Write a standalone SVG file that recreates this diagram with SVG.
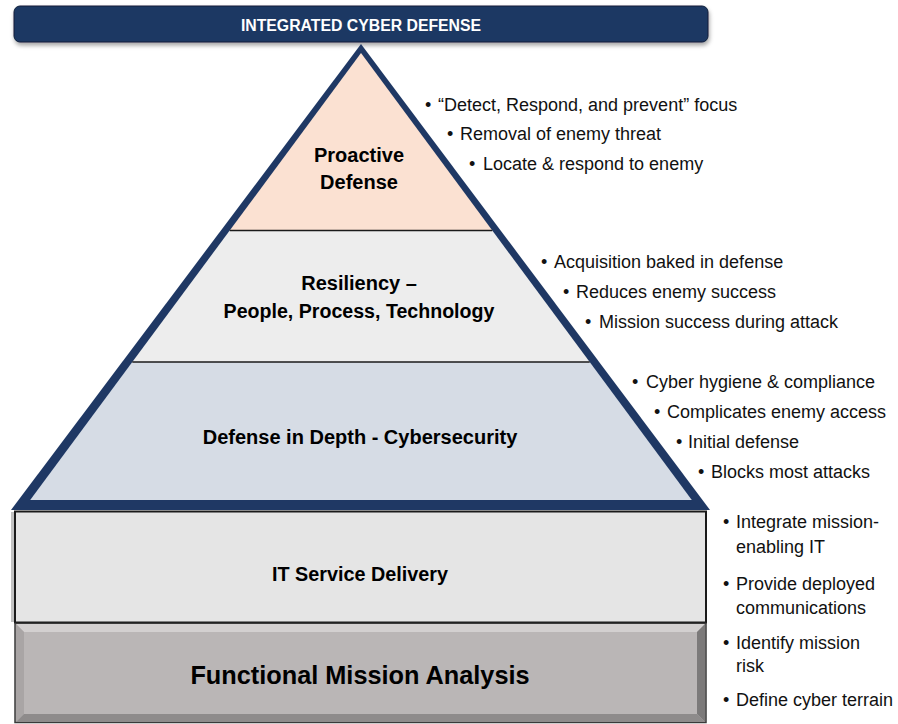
<svg xmlns="http://www.w3.org/2000/svg" width="898" height="724" viewBox="0 0 898 724">
<defs>
<style>
.lbl{font-family:"Liberation Sans",Arial,sans-serif;font-weight:bold;fill:#000;text-anchor:middle}
.bul{font-family:"Liberation Sans",Arial,sans-serif;font-size:18px;fill:#111}
.sep{stroke:#1a1a1a;stroke-width:1.6}
</style>
<filter id="sh" x="-5%" y="-20%" width="110%" height="160%">
<feDropShadow dx="1" dy="3" stdDeviation="2" flood-color="#000" flood-opacity="0.35"/>
</filter>
</defs>
<rect width="898" height="724" fill="#fff"/>

<g id="banner">
<rect x="14" y="6" width="694" height="36" rx="6" fill="#1F3864" stroke="#0e1d38" stroke-width="1" filter="url(#sh)"/>
<text x="361" y="30.5" font-family="'Liberation Sans',Arial,sans-serif" font-weight="bold" font-size="15.8" fill="#fff" text-anchor="middle">INTEGRATED CYBER DEFENSE</text>
</g>

<g id="pyramid-frame">
<polygon points="361,44 11,510 710,510" fill="#1F3864"/>
</g>

<g id="proactive-defense">
<polygon points="361,53 229.7,230.5 492.3,230.5" fill="#FBE1D2"/>
<text class="lbl" x="359" y="162" font-size="20">Proactive</text>
<text class="lbl" x="359" y="189" font-size="20">Defense</text>
</g>

<g id="resiliency">
<polygon points="229.7,230.5 492.3,230.5 589.7,362 132.3,362" fill="#EDEDED"/>
<line class="sep" x1="229.7" y1="230.5" x2="492.3" y2="230.5"/>
<text class="lbl" x="359" y="290" font-size="20">Resiliency –</text>
<text class="lbl" x="359" y="318" font-size="19.6">People, Process, Technology</text>
</g>

<g id="defense-in-depth">
<polygon points="132.3,362 589.7,362 691.8,500 30.2,500" fill="#D6DCE5"/>
<line class="sep" x1="132.3" y1="362" x2="589.7" y2="362"/>
<text class="lbl" x="360" y="444" font-size="20">Defense in Depth - Cybersecurity</text>
</g>

<g id="it-service-delivery">
<rect x="11" y="512" width="3" height="110" fill="#9a9a9a" opacity="0.6"/>
<rect x="15" y="511.5" width="691" height="111" fill="#E5E5E5" stroke="#1a1a1a" stroke-width="2"/>
<text class="lbl" x="360" y="581" font-size="19.8">IT Service Delivery</text>
</g>

<g id="functional-mission-analysis">
<rect x="15" y="623.5" width="691" height="99" fill="#B9B5B5" stroke="#3a3a3a" stroke-width="1.5"/>
<polygon points="16,624 705,624 697,632 24,632" fill="#D3D0D0"/>
<polygon points="16,624 24,632 24,714 16,722" fill="#A9A5A5"/>
<polygon points="705,624 705,722 697,714 697,632" fill="#7C7A7A"/>
<polygon points="16,722 705,722 697,714 24,714" fill="#8E8B8B"/>
<rect x="24" y="632" width="673" height="82" fill="#BAB6B6"/>
<text class="lbl" x="360" y="684" font-size="25.3">Functional Mission Analysis</text>
</g>

<g id="proactive-bullets" class="bul">
<text x="425" y="111">•</text><text x="438" y="111">“Detect, Respond, and prevent” focus</text>
<text x="447" y="140">•</text><text x="460" y="140">Removal of enemy threat</text>
<text x="469" y="170">•</text><text x="483" y="170">Locate &amp; respond to enemy</text>
</g>

<g id="resiliency-bullets" class="bul">
<text x="541" y="268">•</text><text x="554" y="268">Acquisition baked in defense</text>
<text x="563" y="298">•</text><text x="576" y="298">Reduces enemy success</text>
<text x="585" y="328">•</text><text x="599" y="328">Mission success during attack</text>
</g>

<g id="depth-bullets" class="bul">
<text x="632" y="388">•</text><text x="646" y="388">Cyber hygiene &amp; compliance</text>
<text x="654" y="418">•</text><text x="667" y="418">Complicates enemy access</text>
<text x="676" y="448">•</text><text x="688" y="448">Initial defense</text>
<text x="698" y="478">•</text><text x="711" y="478">Blocks most attacks</text>
</g>

<g id="base-bullets" class="bul">
<text x="723" y="528">•</text><text x="736" y="528">Integrate mission-</text>
<text x="736" y="553">enabling IT</text>
<text x="723" y="590">•</text><text x="736" y="590">Provide deployed</text>
<text x="736" y="614">communications</text>
<text x="723" y="649">•</text><text x="736" y="649">Identify mission</text>
<text x="736" y="672">risk</text>
<text x="723" y="706">•</text><text x="736" y="706">Define cyber terrain</text>
</g>
</svg>
